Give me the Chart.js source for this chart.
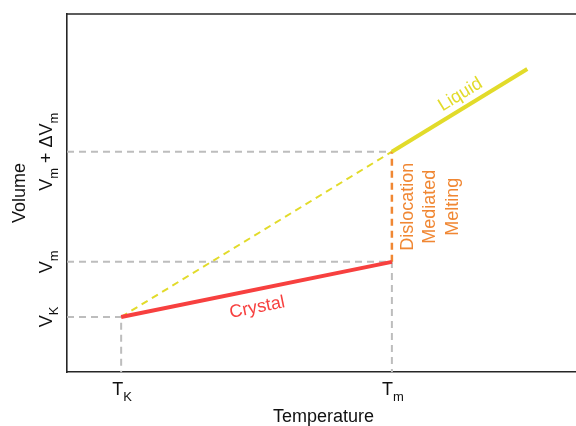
<!DOCTYPE html>
<html>
<head>
<meta charset="utf-8">
<script src="https://cdn.jsdelivr.net/npm/chart.js@4/dist/chart.umd.min.js"></script>
<style>
  html, body { margin: 0; padding: 0; background: #fff; }
  #wrap { width: 576px; height: 426px; position: relative; }
</style>
</head>
<body>
<div id="wrap"><canvas id="c"></canvas></div>
<script>
// ---- data (arbitrary units) ----
const tempTicks = [2, 12];                       // T_K, T_m
const tempTickLabels = [['T', 'K'], ['T', 'm']];
const volTicks = [2, 4, 8];                      // V_K, V_m, V_m + dV_m
const volTickLabels = [
  [['V', 0], ['K', 1]],
  [['V', 0], ['m', 1]],
  [['V', 0], ['m', 1], [' + \u0394V', 0], ['m', 1]]
];
const crystalX = [2, 12];
const crystalY = [2, 4];
const liquidX = [12, 17];
const liquidY = [8, 11];
const supercooledX = [2, 12];
const supercooledY = [2, 8];
const meltX = [12, 12];
const meltY = [4, 8];
const meltLines = ['Dislocation', 'Mediated', 'Melting'];
const xRange = [0, 18.8];
const yRange = [0, 13];

const pts = (xs, ys) => xs.map((x, i) => ({ x: x, y: ys[i] }));

const RED = '#f7403f';
const YELLOW = '#e2db2a';
const ORANGE = '#f08733';
const GRAY = '#bdbdbd';
const FONT = '"Liberation Sans", Arial, Helvetica, sans-serif';

function drawRich(ctx, segs, cx, baseY, angle, size, subSize, subDrop, color) {
  ctx.save();
  ctx.translate(cx, baseY);
  ctx.rotate(angle);
  ctx.fillStyle = color;
  ctx.textBaseline = 'alphabetic';
  ctx.textAlign = 'left';
  let total = 0;
  const widths = segs.map(s => {
    ctx.font = (s[1] ? subSize : size) + 'px ' + FONT;
    const w = ctx.measureText(s[0]).width;
    total += w;
    return w;
  });
  let x = -total / 2;
  segs.forEach((s, i) => {
    ctx.font = (s[1] ? subSize : size) + 'px ' + FONT;
    ctx.fillText(s[0], x, s[1] ? subDrop : 0);
    x += widths[i];
  });
  ctx.restore();
}

function drawText(ctx, text, x, y, angle, color, dx, dy) {
  ctx.save();
  ctx.translate(x, y);
  ctx.rotate(angle);
  ctx.font = '18px ' + FONT;
  ctx.fillStyle = color;
  ctx.textAlign = 'center';
  ctx.textBaseline = 'alphabetic';
  ctx.fillText(text, dx, dy);
  ctx.restore();
}

const decor = {
  id: 'decor',
  beforeDatasetsDraw(chart) {
    const { ctx, chartArea } = chart;
    ctx.save();
    ctx.strokeStyle = '#262626';
    ctx.lineWidth = 1.6;
    ctx.beginPath();
    ctx.moveTo(chartArea.left - 0.8, chartArea.top);
    ctx.lineTo(chartArea.right, chartArea.top);
    ctx.stroke();
    ctx.restore();
  },
  afterDatasetsDraw(chart) {
    const { ctx, chartArea } = chart;
    const xs = chart.scales.x, ys = chart.scales.y;
    // axis titles
    drawText(ctx, 'Temperature', (chartArea.left + chartArea.right) / 2 + 2, 422, 0, '#111', 0, 0);
    drawText(ctx, 'Volume', 25, (chartArea.top + chartArea.bottom) / 2, -Math.PI / 2, '#111', 0, 0);
    // x tick labels
    tempTicks.forEach((v, i) => {
      const lab = tempTickLabels[i];
      drawRich(ctx, [[lab[0], 0], [lab[1], 1]], xs.getPixelForValue(v) + 1, 395, 0, 18, 13, 6, '#111');
    });
    // y tick labels (rotated)
    volTicks.forEach((v, i) => {
      drawRich(ctx, volTickLabels[i], 52, ys.getPixelForValue(v), -Math.PI / 2, 18, 13, 6, '#111');
    });
    // Crystal label
    const c0x = xs.getPixelForValue(crystalX[0]), c0y = ys.getPixelForValue(crystalY[0]);
    const c1x = xs.getPixelForValue(crystalX[1]), c1y = ys.getPixelForValue(crystalY[1]);
    drawText(ctx, 'Crystal', (c0x + c1x) / 2, (c0y + c1y) / 2, Math.atan2(c1y - c0y, c1x - c0x), RED, -3, 23);
    // Liquid label
    const l0x = xs.getPixelForValue(liquidX[0]), l0y = ys.getPixelForValue(liquidY[0]);
    const l1x = xs.getPixelForValue(liquidX[1]), l1y = ys.getPixelForValue(liquidY[1]);
    drawText(ctx, 'Liquid', (l0x + l1x) / 2, (l0y + l1y) / 2, Math.atan2(l1y - l0y, l1x - l0x), YELLOW, 9, -8);
    // Dislocation Mediated Melting (reads bottom to top)
    const mx = xs.getPixelForValue(meltX[0]);
    const my = (ys.getPixelForValue(meltY[0]) + ys.getPixelForValue(meltY[1])) / 2;
    meltLines.forEach((t, i) => {
      drawText(ctx, t, mx, my, -Math.PI / 2, ORANGE, 0, 21 + i * 22.5);
    });
  }
};

const base = { pointRadius: 0, pointHoverRadius: 0, fill: false, tension: 0, showLine: true };

new Chart(document.getElementById('c'), {
  type: 'scatter',
  data: {
    datasets: [
      Object.assign({ data: pts(crystalX, crystalY), borderColor: RED, borderWidth: 4, borderCapStyle: 'butt', order: 0 }, base),
      Object.assign({ data: pts(liquidX, liquidY), borderColor: YELLOW, borderWidth: 4, borderCapStyle: 'butt', order: 0 }, base),
      Object.assign({ data: pts(meltX, meltY), borderColor: ORANGE, borderWidth: 2.5, borderDash: [7, 5], order: 1 }, base),
      Object.assign({ data: pts(supercooledX, supercooledY), borderColor: YELLOW, borderWidth: 2, borderDash: [7, 5], order: 2 }, base),
      Object.assign({ data: pts([xRange[0], tempTicks[0], tempTicks[0]], [volTicks[0], volTicks[0], yRange[0]]), borderColor: GRAY, borderWidth: 2, borderDash: [7, 5], order: 3 }, base),
      Object.assign({ data: pts([xRange[0], tempTicks[1], tempTicks[1]], [volTicks[1], volTicks[1], yRange[0]]), borderColor: GRAY, borderWidth: 2, borderDash: [7, 5], order: 3 }, base),
      Object.assign({ data: pts([xRange[0], tempTicks[1]], [volTicks[2], volTicks[2]]), borderColor: GRAY, borderWidth: 2, borderDash: [7, 5], order: 3 }, base)
    ]
  },
  options: {
    responsive: true,
    maintainAspectRatio: false,
    animation: false,
    events: [],
    layout: { padding: { top: 14, right: 0, bottom: 0, left: 0 } },
    plugins: { legend: { display: false }, tooltip: { enabled: false } },
    scales: {
      x: {
        type: 'linear', min: xRange[0], max: xRange[1],
        grid: { display: false, drawTicks: false },
        border: { display: true, color: '#262626', width: 1.6 },
        ticks: { display: false },
        title: { display: false },
        afterFit: s => { s.height = 54; }
      },
      y: {
        type: 'linear', min: yRange[0], max: yRange[1],
        grid: { display: false, drawTicks: false },
        border: { display: true, color: '#262626', width: 1.6 },
        ticks: { display: false },
        title: { display: false },
        afterFit: s => { s.width = 67; }
      }
    }
  },
  plugins: [decor]
});
</script>
</body>
</html>
